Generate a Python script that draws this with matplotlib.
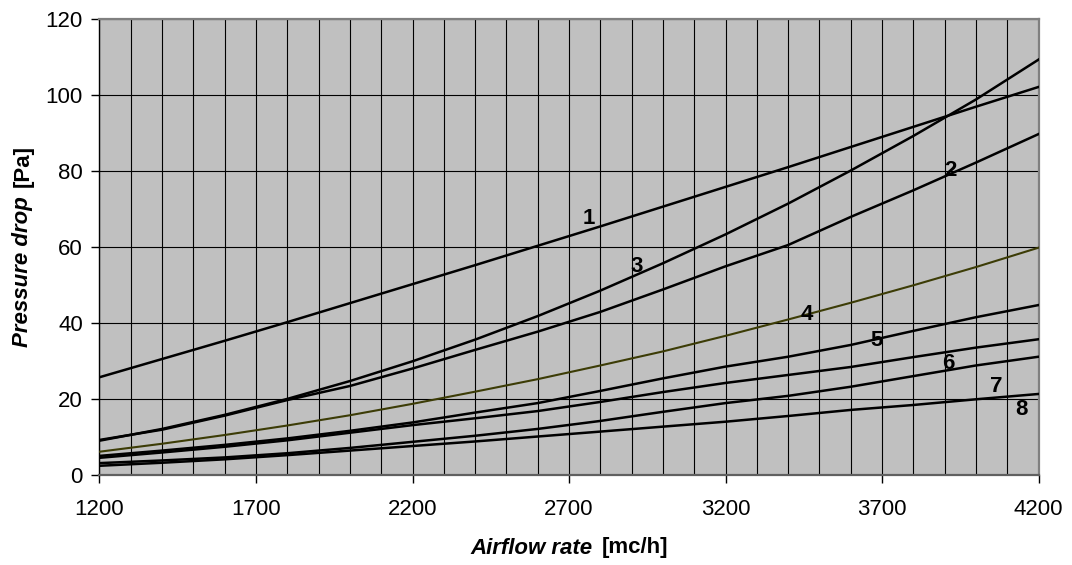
import matplotlib
matplotlib.use("Agg")
import matplotlib.pyplot as plt

plt.rcParams['font.family'] = ['Liberation Sans', 'DejaVu Sans']

# airflow rate [mc/h]
airflow = [1200, 1400, 1600, 1800, 2000, 2200, 2400, 2600,
           2800, 3000, 3200, 3400, 3600, 3800, 4000, 4200]

# pressure drop [Pa] for each curve
curve_1 = [25.8, 30.6, 35.4, 40.3, 45.3, 50.3, 55.3, 60.4,
           65.5, 70.7, 75.9, 81.1, 86.4, 91.7, 97.0, 102.2]
curve_2 = [9.3, 12.0, 15.7, 19.8, 23.5, 28.1, 33.0, 37.8,
           43.0, 48.9, 55.0, 60.6, 68.0, 75.0, 82.3, 89.8]
curve_3 = [9.1, 12.2, 15.9, 20.1, 24.8, 30.0, 35.7, 41.9,
           48.6, 55.8, 63.4, 71.5, 80.2, 89.3, 98.9, 109.4]
curve_4 = [6.2, 8.3, 10.6, 13.1, 15.8, 18.8, 22.0, 25.3,
           28.9, 32.6, 36.7, 41.0, 45.4, 50.0, 54.8, 59.9]
curve_5 = [5.1, 6.5, 8.0, 9.7, 11.7, 13.9, 16.5, 19.0,
           22.2, 25.5, 28.6, 31.2, 34.3, 38.0, 41.6, 44.8]
curve_6 = [4.6, 6.0, 7.5, 9.2, 11.2, 13.2, 15.0, 16.9,
           19.3, 21.9, 24.3, 26.4, 28.5, 31.1, 33.6, 35.8]
curve_7 = [3.2, 3.9, 4.7, 5.8, 7.2, 8.8, 10.4, 12.2,
           14.3, 16.7, 19.0, 20.9, 23.3, 26.1, 28.9, 31.2]
curve_8 = [2.5, 3.3, 4.2, 5.3, 6.5, 7.7, 8.9, 10.2,
           11.5, 12.8, 14.1, 15.6, 17.2, 18.5, 20.0, 21.4]

# curve number labels
label_text = ["1", "2", "3", "4", "5", "6", "7", "8"]
label_x = [2762, 3917, 2916, 3459, 3681, 3912, 4066, 4146]
label_y = [67.6, 80.2, 54.9, 42.2, 35.6, 29.5, 23.3, 17.2]

fig = plt.figure(figsize=(10.72, 5.65), dpi=100)
ax = fig.add_axes([0.0928, 0.1588, 0.876, 0.807])
ax.set_facecolor('#C0C0C0')

for c in [curve_1, curve_2, curve_3, curve_5, curve_6, curve_7, curve_8]:
    ax.plot(airflow, c, color='black', lw=1.8, zorder=3)
ax.plot(airflow, curve_4, color='#3c3c06', lw=1.5, zorder=3)

for t, x, y in zip(label_text, label_x, label_y):
    ax.text(x, y, t, fontsize=16, fontweight='bold', ha='center', va='center', zorder=4)

ax.set_xlim(1200, 4200)
ax.set_ylim(0, 120)
ax.set_xticks(range(1200, 4201, 500))
ax.set_xticks(range(1200, 4201, 100), minor=True)
ax.set_yticks(range(0, 121, 20))
ax.grid(which='both', axis='x', color='black', lw=0.8, zorder=1)
ax.grid(which='major', axis='y', color='black', lw=0.8, zorder=1)
ax.set_axisbelow(True)
ax.tick_params(axis='x', which='major', direction='out', length=6, width=1, labelsize=16, pad=11)
ax.tick_params(axis='x', which='minor', length=0)
ax.tick_params(axis='y', direction='out', length=6, width=1, labelsize=16, pad=6)

for s in ['top', 'right']:
    ax.spines[s].set_color('#808080')
    ax.spines[s].set_linewidth(1.6)
ax.spines['left'].set_color('black')
ax.spines['left'].set_linewidth(1.0)
ax.spines['bottom'].set_color('#606060')
ax.spines['bottom'].set_linewidth(1.6)

# axis titles: italic part + plain bold unit
fig.canvas.draw()
r = fig.canvas.get_renderer()
W, H = fig.get_size_inches() * fig.dpi

xa = fig.text(0, 17 / H, "Airflow rate", fontsize=16, fontweight='bold', style='italic',
              ha='left', va='center')
xb = fig.text(0, 17 / H, "[mc/h]", fontsize=16, fontweight='bold', ha='left', va='center')
wa = xa.get_window_extent(r).width
wb = xb.get_window_extent(r).width
gap = 9
x0 = 569 - (wa + gap + wb) / 2
xa.set_x(x0 / W)
xb.set_x((x0 + wa + gap) / W)

ya = fig.text(23 / W, 0, "Pressure drop", fontsize=16, fontweight='bold', style='italic',
              rotation=90, ha='center', va='bottom')
yb = fig.text(23 / W, 0, "[Pa]", fontsize=16, fontweight='bold',
              rotation=90, ha='center', va='bottom')
ha_ = ya.get_window_extent(r).height
hb_ = yb.get_window_extent(r).height
yc = H - 246
y0 = yc - (ha_ + gap + hb_) / 2
ya.set_y(y0 / H)
yb.set_y((y0 + ha_ + gap) / H)

fig.savefig("out.png", dpi=100)
plt.close(fig)
